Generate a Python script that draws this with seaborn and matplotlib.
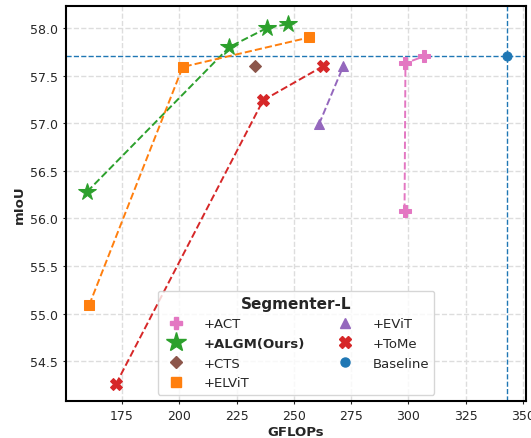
import matplotlib
matplotlib.use("Agg")
import matplotlib.pyplot as plt
from matplotlib.lines import Line2D
import seaborn as sns
import pandas as pd

# Data
act_x = [298.3, 298.7, 306.6]
act_y = [56.08, 57.63, 57.70]
algm_x = [159.8, 221.9, 238.3, 247.4]
algm_y = [56.28, 57.80, 58.00, 58.04]
cts_x = [232.9]
cts_y = [57.60]
elvit_x = [160.7, 201.5, 256.7]
elvit_y = [55.09, 57.59, 57.90]
evit_x = [261.0, 271.6]
evit_y = [56.99, 57.60]
tome_x = [172.4, 236.6, 262.9]
tome_y = [54.26, 57.24, 57.60]
base_x = [343.0]
base_y = [57.70]

labels = ["+ACT", "+ALGM(Ours)", "+CTS", "+ELViT", "+EViT", "+ToMe", "Baseline"]
xticks = [175, 200, 225, 250, 275, 300, 325, 350]
yticks = [54.5, 55.0, 55.5, 56.0, 56.5, 57.0, 57.5, 58.0]

sns.set_style("ticks")
plt.rcParams['font.family'] = ['DejaVu Sans']

pal = sns.color_palette("tab10")
colors = {"+ACT": pal[6], "+ALGM(Ours)": pal[2], "+CTS": pal[5], "+ELViT": pal[1],
          "+EViT": pal[4], "+ToMe": pal[3], "Baseline": pal[0]}
markers = {"+ACT": "P", "+ALGM(Ours)": "*", "+CTS": "D", "+ELViT": "s",
           "+EViT": "^", "+ToMe": "X", "Baseline": "o"}
msize = {"+ACT": 8, "+ALGM(Ours)": 13, "+CTS": 6.5, "+ELViT": 7,
         "+EViT": 7, "+ToMe": 8, "Baseline": 6.5}
series = {"+ACT": (act_x, act_y), "+ALGM(Ours)": (algm_x, algm_y), "+CTS": (cts_x, cts_y),
          "+ELViT": (elvit_x, elvit_y), "+EViT": (evit_x, evit_y), "+ToMe": (tome_x, tome_y),
          "Baseline": (base_x, base_y)}

fig = plt.figure(figsize=(5.31, 4.39), dpi=100)
ax = fig.add_axes([0.124, 0.084, 0.867, 0.900])

ax.axhline(base_y[0], color=pal[0], ls="--", lw=1.0, zorder=1)
ax.axvline(base_x[0], color=pal[0], ls="--", lw=1.0, zorder=1)

for lab in labels:
    xs, ys = series[lab]
    df = pd.DataFrame({"x": xs, "y": ys})
    sns.lineplot(data=df, x="x", y="y", sort=False, ax=ax, color=colors[lab],
                 linestyle="--", lw=1.4, marker=markers[lab], markersize=msize[lab],
                 markeredgecolor=colors[lab], zorder=3)

ax.set_xlim(150.5, 351.4)
ax.set_ylim(54.08, 58.23)
ax.set_xticks(xticks)
ax.set_yticks(yticks)
ax.set_xticklabels([str(t) for t in xticks], fontsize=9)
ax.set_yticklabels([f"{t:.1f}" for t in yticks], fontsize=9)
ax.tick_params(length=2.5, width=0.8, pad=3)
ax.grid(True, ls="--", color="#dddddd", lw=1.0)
ax.set_axisbelow(True)
for s in ax.spines.values():
    s.set_linewidth(1.5)
    s.set_color("black")
ax.set_xlabel("GFLOPs", fontweight="bold", fontsize=9.5, labelpad=2)
ax.set_ylabel("mIoU", fontweight="bold", fontsize=9.5, labelpad=3)

handles = [Line2D([], [], ls="none", marker=markers[l], color=colors[l],
                  markersize=msize[l] + (2 if l == "+ALGM(Ours)" else 0)) for l in labels]
leg = ax.legend(handles, labels, loc="lower center", ncol=2, fontsize=9.5,
                title="Segmenter-L", title_fontproperties={"weight": "bold", "size": 11},
                columnspacing=2.0, handletextpad=1.1, labelspacing=0.5, framealpha=0.8,
                borderpad=0.4)
for t in leg.get_texts():
    if t.get_text() == "+ALGM(Ours)":
        t.set_fontweight("bold")

fig.savefig("out.png", dpi=100)
